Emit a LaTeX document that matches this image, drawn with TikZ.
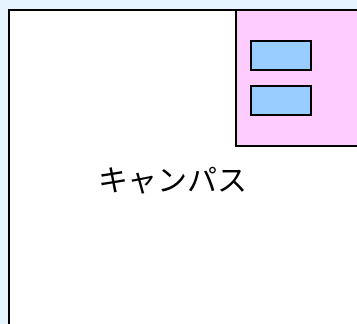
\documentclass[tikz,border=0pt]{standalone}
\usepackage{fontspec}
\newfontfamily\jpfont{Noto Sans CJK JP}
\definecolor{bgblue}{HTML}{E6F4FF}
\definecolor{pinkfill}{HTML}{FFCCFF}
\definecolor{bluefill}{HTML}{99CCFF}
\tikzset{
  frame/.style={draw=black, line width=2pt},
  box/.style={draw=black, line width=2pt, fill=bluefill}
}
\begin{document}
\begin{tikzpicture}[x=1pt,y=-1pt]
\fill[bgblue] (0,0) rectangle (357,324);
\useasboundingbox (0,0) rectangle (357,324);
\begin{scope}
\clip (0,0) rectangle (357,324);
\draw[frame, fill=white] (9,10) rectangle (365,340);
\draw[frame, fill=pinkfill] (236,10) rectangle (365,146);
\end{scope}
\draw[box] (251,41) rectangle (311,70);
\draw[box] (251,86) rectangle (311,115);
\node[font=\jpfont\fontsize{30}{36}\selectfont] (label) at (173,181) {キャンパス};
\end{tikzpicture}
\end{document}
